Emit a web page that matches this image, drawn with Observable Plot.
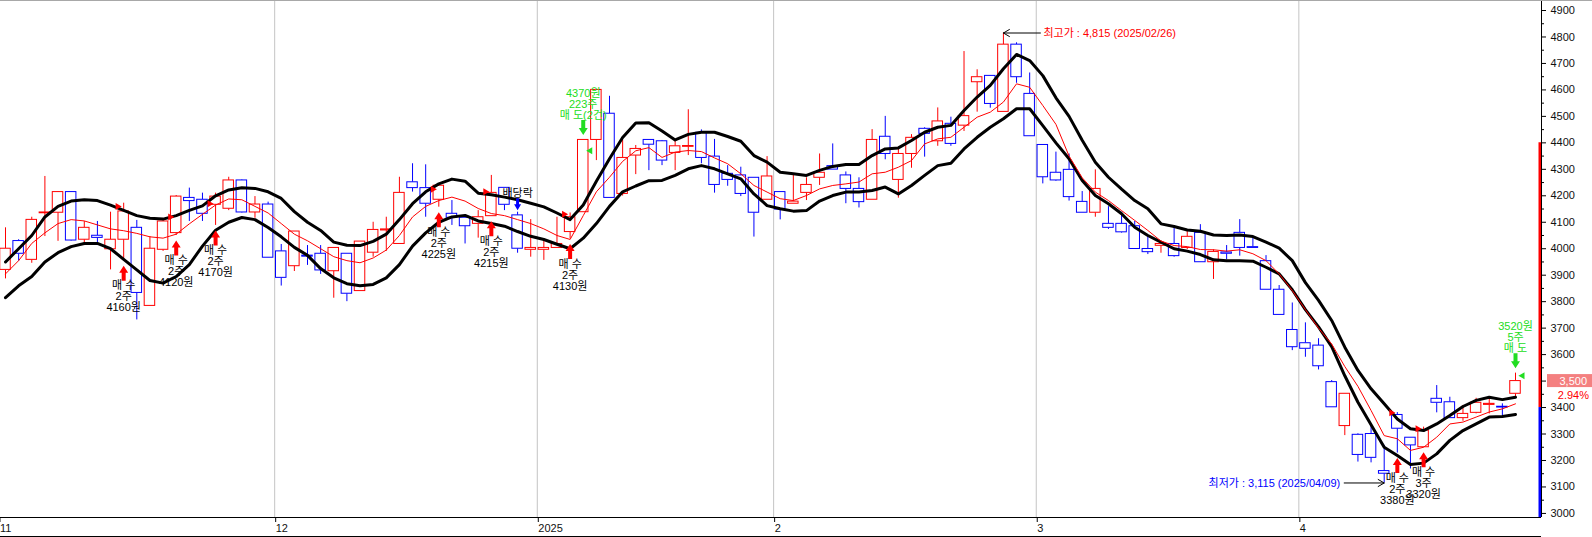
<!DOCTYPE html>
<html><head><meta charset="utf-8">
<script src="https://cdn.jsdelivr.net/npm/d3@7"></script>
<script src="https://cdn.jsdelivr.net/npm/@observablehq/plot@0.6"></script>
<style>
html,body{margin:0;padding:0;background:#fff;}
#wrap{position:relative;width:1592px;height:537px;overflow:hidden;background:#fff;}
#topline{position:absolute;left:0;top:0;width:1592px;height:1px;background:#a8a8a8;}
svg{display:block}
</style></head><body><div id="wrap"><div id="chart"></div><div id="topline"></div></div>
<script>
// ---- data (daily candles, Nov 2024 – Apr 23 2025) ----
const opens  = [3920,4029,3958,4134,4136,4214,4034,4049,3998,4034,4079,3784,3996,4059,4192,4185,4166,4151,4258,4137,4167,
                3990,3934,3974,3981,3915,3981,3840,3985,4069,4018,4251,4229,4185,4132,4117,4094,4123,4230,4126,3996,
                3996,4003,4063,4138,4411,4510,4207,4352,4411,4406,4362,4385,4438,4348,4283,4277,4268,4185,
                4214,4170,4211,4268,4312,4277,4226,4185,4423,4260,4358,4453,4406,4472,4465,4629,4653,4517,4771,4585,
                4392,4287,4298,4177,4136,4094,4094,4085,3999,4011,4018,4003,4060,3949,3986,4060,4006,3953,3845,3693,
                3643,3634,3496,3330,3297,3300,3160,3372,3286,3250,3433,3420,3360,3380,3410,3403,3452];
const highs  = [4079,4034,4119,4273,4216,4216,4103,4103,4138,4172,4107,4046,4110,4201,4229,4210,4210,4270,4260,4197,4176,
                4016,4065,4012,4012,4003,3981,4027,4100,4119,4270,4321,4317,4238,4182,4128,4144,4277,4230,4138,4110,
                4037,4119,4135,4411,4600,4576,4409,4390,4411,4409,4405,4525,4449,4413,4314,4308,4268,4348,
                4214,4277,4268,4358,4396,4290,4268,4450,4500,4377,4431,4457,4532,4497,4745,4676,4653,4815,4778,4664,
                4392,4365,4358,4216,4298,4159,4138,4103,4046,4028,4085,4072,4091,3996,4012,4110,4046,3974,3861,3795,
                3720,3660,3502,3452,3301,3338,3257,3381,3286,3326,3483,3439,3408,3435,3439,3414,3530];
const lows   = [3886,3953,3945,4046,4028,4029,4012,4012,3920,3955,3731,3784,3990,4050,4103,4103,4088,4144,4135,4115,3966,
                3859,3914,3937,3903,3813,3800,3840,3968,3990,4018,4214,4119,4157,4088,4018,4040,4123,4144,3983,3968,
                3956,4003,4037,4138,4333,4192,4199,4280,4295,4314,4295,4352,4321,4210,4236,4197,4044,4185,
                4109,4170,4182,4239,4299,4170,4154,4185,4336,4191,4304,4346,4387,4387,4443,4516,4531,4517,4625,4425,
                4245,4255,4180,4136,4119,4073,4059,3999,3978,3983,3968,3997,3949,3884,3958,3972,4003,3845,3750,3615,
                3590,3542,3401,3294,3194,3191,3115,3228,3168,3250,3380,3360,3348,3376,3376,3361,3435];
const closes = [4000,3981,4109,4137,4214,4031,4079,4041,4034,4141,3833,4000,4103,4197,4180,4132,4197,4258,4137,4167,3966,
                3890,4065,3970,3918,4003,3830,4027,4071,4073,4211,4229,4170,4238,4117,4085,4119,4211,4166,4000,4003,
                4003,4018,4119,4411,4600,4192,4343,4377,4393,4333,4387,4388,4343,4241,4260,4207,4136,4273,
                4148,4178,4241,4287,4299,4226,4176,4411,4358,4358,4419,4434,4481,4396,4501,4648,4547,4771,4648,4425,
                4270,4258,4195,4136,4226,4079,4062,3999,3987,4018,3972,4045,3949,3988,3981,4003,4003,3845,3750,3628,
                3622,3556,3401,3452,3221,3210,3150,3320,3257,3313,3418,3360,3376,3418,3414,3400,3500];

// envelope lines (upper / middle / lower)
const bandUpper = [3950,4000,4050,4120,4160,4180,4185,4182,4165,4145,4125,4115,4112,4125,4145,4162,4200,4222,4230,4228,4215,
                4190,4140,4100,4069,4025,4013,4012,4028,4055,4110,4170,4215,4245,4263,4255,4210,4204,4195,4185,4172,
                4158,4135,4110,4165,4255,4340,4420,4475,4476,4445,4411,4432,4440,4440,4424,4406,4352,4327,
                4289,4283,4277,4296,4311,4318,4318,4352,4377,4381,4409,4440,4459,4466,4522,4573,4617,4680,4734,4711,
                4654,4570,4500,4410,4327,4270,4225,4182,4151,4094,4084,4071,4066,4052,4050,4052,4046,4025,4002,3955,
                3872,3805,3729,3628,3540,3471,3414,3357,3320,3313,3338,3370,3404,3427,3439,3430,3439];
const bandMid   = [3905,3955,4020,4060,4095,4110,4105,4090,4075,4068,4058,4045,4040,4055,4094,4130,4165,4188,4185,4160,4135,
                4095,4055,4030,4000,3970,3955,3947,3965,3995,4050,4120,4160,4182,4195,4180,4152,4133,4125,4110,4095,
                4075,4050,4035,4125,4215,4270,4330,4370,4382,4345,4365,4371,4367,4343,4321,4283,4239,4214,
                4189,4182,4201,4226,4239,4245,4252,4283,4289,4308,4333,4396,4415,4421,4459,4497,4516,4554,4623,4610,
                4541,4470,4350,4268,4214,4182,4144,4107,4069,4029,4012,4008,3997,3996,3991,3996,3981,3955,3905,3842,
                3770,3700,3640,3555,3480,3389,3294,3282,3238,3250,3288,3338,3345,3364,3383,3395,3414];
const bandLower = [3815,3860,3895,3950,3985,4008,4020,4020,4000,3960,3920,3880,3870,3895,3940,4010,4070,4100,4118,4110,4080,
                4045,4005,3975,3925,3890,3868,3860,3865,3890,3940,4010,4060,4100,4120,4126,4105,4095,4085,4065,4047,
                4035,4017,4000,4040,4095,4160,4215,4237,4257,4258,4277,4302,4314,4302,4283,4264,4207,4163,
                4151,4142,4144,4180,4201,4214,4214,4220,4233,4207,4239,4277,4314,4323,4377,4421,4459,4491,4529,4529,
                4465,4400,4340,4258,4201,4170,4132,4081,4050,4025,4000,3991,3978,3958,3955,3955,3953,3930,3905,3845,
                3770,3705,3630,3520,3420,3335,3250,3219,3185,3190,3225,3276,3313,3338,3364,3366,3374];

// month starts (bar index of first trading day) and their labels
const monthStartIdx = [0, 21, 41, 59, 79, 99];
const monthLabels   = ["11", "12", "2025", "2", "3", "4"];

// y ticks
const yTicks = d3.range(3000, 4901, 100);
const yMinor = d3.range(3050, 4901, 100);

// trade signals
const buyIdx   = [9, 13, 16, 33, 37, 43, 106, 108];
const buyPrice = [4160, 4120, 4170, 4225, 4215, 4130, 3380, 3320];
const buyQty   = ["2주", "2주", "2주", "2주", "2주", "2주", "2주", "3주"];
const sellIdx   = [44, 115];
const sellPrice = [4370, 3520];
const sellQty   = ["223주", "5주"];
const sellTag   = ["매 도(2건)", "매 도"];
const exDivIdx  = [39];
const exDivText = ["배당락"];

// side range bars next to the price axis
const rangeFrom  = [4400, 3400];
const rangeTo    = [3400, 2984.6];
const rangeColor = ["#ff0000", "#0000ff"];

// ---- build ----
const RED = "#ff0000", BLUE = "#0000ff", GREEN = "#22dd22";
const bars = opens.map((o, i) => ({i, o, h: highs[i], l: lows[i], c: closes[i]}));
const colr = d => d.c >= d.o ? RED : BLUE;
const hiIdx = d3.maxIndex(highs), loIdx = d3.minIndex(lows);
const highInfo = [{i: hiIdx, v: highs[hiIdx], label: `최고가 : ${d3.format(",")(highs[hiIdx])} (2025/02/26)`}];
const lowInfo  = [{i: loIdx, v: lows[loIdx],  label: `최저가 : ${d3.format(",")(lows[loIdx])} (2025/04/09)`}];
const buys  = buyIdx.map((i, k) => ({i, price: buyPrice[k], low: lows[i], text: `매 수\n${buyQty[k]}\n${buyPrice[k]}원`}));
const sells = sellIdx.map((i, k) => ({i, price: sellPrice[k], high: highs[i], text: `${sellPrice[k]}원\n${sellQty[k]}\n${sellTag[k]}`}));
const exDiv = exDivIdx.map((i, k) => ({i, high: highs[i], text: exDivText[k]}));
const series = (arr) => arr.map((v, i) => ({i, v}));

const last = closes[closes.length - 1], prev = closes[closes.length - 2];
const xDomain = [-0.381, 116.98];
const yDomain = [2984.6, 4937.8];
const monthPos = monthStartIdx.map(d => d - 0.5);
const monthLabelOf = new Map(monthPos.map((p, k) => [p, monthLabels[k]]));

const bigArrow = (hw, hl, sw) => ({
  draw(ctx, l) {
    ctx.moveTo(-sw, 0); ctx.lineTo(-sw, -l + hl); ctx.lineTo(-hw, -l + hl);
    ctx.lineTo(0, -l); ctx.lineTo(hw, -l + hl); ctx.lineTo(sw, -l + hl);
    ctx.lineTo(sw, 0); ctx.closePath();
  }
});
const thinArrow = {
  draw(ctx, l) {
    ctx.moveTo(0, 0); ctx.lineTo(0, -l);
    ctx.moveTo(-3.5, -l + 6); ctx.lineTo(0, -l); ctx.lineTo(3.5, -l + 6);
  }
};
const FONT = "Liberation Sans, Arial, 'Noto Sans CJK KR', sans-serif";

const plot = Plot.plot({
  width: 1592, height: 537,
  marginLeft: 0, marginRight: 51, marginTop: 0, marginBottom: 20,
  x: {type: "linear", domain: xDomain, label: null},
  y: {type: "linear", domain: yDomain, label: null},
  style: {fontFamily: FONT, fontSize: "11px", background: "white", overflow: "visible"},
  marks: [
    Plot.ruleX(monthPos, {stroke: "#c4c4c4"}),
    // wicks
    Plot.ruleX(bars, {x: "i", y1: "h", y2: d => Math.max(d.o, d.c), stroke: colr}),
    Plot.ruleX(bars, {x: "i", y1: d => Math.min(d.o, d.c), y2: "l", stroke: colr}),
    // bodies
    Plot.rect(bars, {x1: d => d.i - 0.4, x2: d => d.i + 0.4, y1: "o", y2: "c", fill: "white", stroke: colr, strokeWidth: 1}),
    // envelope
    Plot.line(series(bandUpper), {x: "i", y: "v", stroke: "black", strokeWidth: 3}),
    Plot.line(series(bandLower), {x: "i", y: "v", stroke: "black", strokeWidth: 3}),
    Plot.line(series(bandMid), {x: "i", y: "v", stroke: RED, strokeWidth: 1}),
    // buy signals
    Plot.dot(buys, {x: "i", y: "price", symbol: "triangle", r: 2.6, fill: RED, stroke: "none", rotate: 90, dx: -6}),
    Plot.vector(buys, {x: "i", y: "low", length: 15, rotate: 0, anchor: "end", dy: 5, shape: bigArrow(4.5, 7, 2), fill: RED, stroke: "none"}),
    Plot.text(buys, {x: "i", y: "low", text: "text", dy: 21, lineAnchor: "top", lineHeight: 1, fill: "black", fontSize: 11}),
    // sell signals
    Plot.dot(sells, {x: "i", y: "price", symbol: "triangle", r: 2.6, fill: GREEN, stroke: "none", rotate: -90, dx: 7}),
    Plot.vector(sells, {x: "i", y: "high", length: 15, rotate: 180, anchor: "end", dy: -5, shape: bigArrow(4.5, 7, 2), fill: GREEN, stroke: "none"}),
    Plot.text(sells, {x: "i", y: "high", text: "text", dy: -21, lineAnchor: "bottom", lineHeight: 1, fill: GREEN, fontSize: 11}),
    // ex-dividend
    Plot.vector(exDiv, {x: "i", y: "high", length: 12, rotate: 180, anchor: "end", dy: -2, shape: bigArrow(3.5, 6, 1.5), fill: BLUE, stroke: "none"}),
    Plot.text(exDiv, {x: "i", y: "high", text: "text", dy: -15, lineAnchor: "bottom", fill: "black", fontSize: 11}),
    // high / low labels
    Plot.vector(highInfo, {x: "i", y: "v", length: 37, rotate: -90, anchor: "end", shape: thinArrow, stroke: "black", strokeWidth: 1}),
    Plot.text(highInfo, {x: "i", y: "v", text: "label", dx: 40, textAnchor: "start", fill: RED, fontSize: 11}),
    Plot.vector(lowInfo, {x: "i", y: "v", length: 40, rotate: 90, anchor: "end", shape: thinArrow, stroke: "black", strokeWidth: 1}),
    Plot.text(lowInfo, {x: "i", y: "v", text: "label", dx: -44, textAnchor: "end", fill: BLUE, fontSize: 11}),
    // side range bars
    Plot.ruleX(rangeFrom.map((f, k) => ({f, t: rangeTo[k], c: rangeColor[k]})), {x: () => xDomain[1], y1: "f", y2: "t", stroke: "c", strokeWidth: 3, dx: -1.5}),
    // axes & frame lines
    Plot.ruleX([xDomain[1]], {stroke: "black"}),
    Plot.ruleY([yDomain[0]], {stroke: "black"}),
    Plot.ruleY([yDomain[0]], {stroke: "black", dy: 19}),
    Plot.axisY(yMinor, {anchor: "right", label: null, tickSize: 2, tickFormat: () => "", stroke: "black"}),
    Plot.axisY(yTicks, {anchor: "right", label: null, tickSize: 4, tickPadding: 5, fontSize: 11, fill: "#111", stroke: "black",
                        tickFormat: d => (d === Math.round(last / 100) * 100 ? "" : String(d))}),
    Plot.axisX(monthPos, {label: null, tickSize: 5, tickPadding: 2, textAnchor: "start", dx: 1, fontSize: 11, fill: "#111", stroke: "black",
                          tickFormat: d => monthLabelOf.get(d)})
  ]
});
document.getElementById("chart").appendChild(plot);

// last-price tag on the price axis, positioned with Plot's own y scale
const yS = plot.scale("y");
const yLast = yS.apply(last);
const svg = d3.select(plot);
svg.append("rect").attr("x", 1547).attr("y", yLast - 6.5).attr("width", 45).attr("height", 13).attr("fill", "#f48080");
svg.append("text").attr("x", 1587).attr("y", yLast + 4).attr("text-anchor", "end").attr("fill", "white")
   .attr("font-size", 11).attr("font-family", FONT).text(d3.format(",")(last));
svg.append("text").attr("x", 1589).attr("y", yLast + 18).attr("text-anchor", "end").attr("fill", RED)
   .attr("font-size", 11).attr("font-family", FONT).text(((last / prev - 1) * 100).toFixed(2) + "%");
</script></body></html>
